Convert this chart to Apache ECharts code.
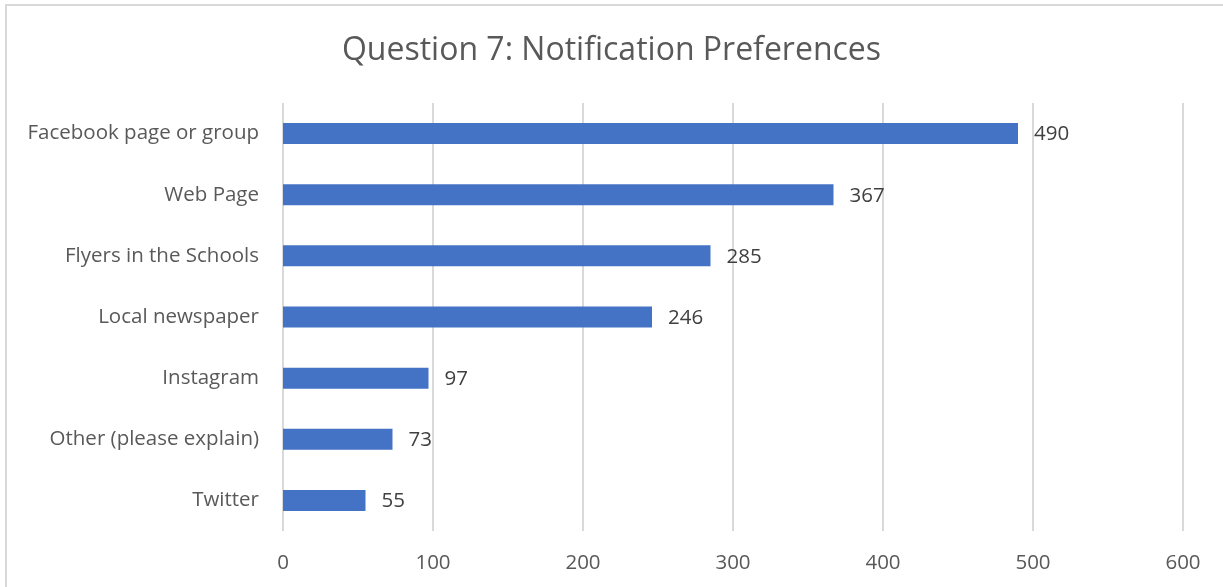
<!DOCTYPE html>
<html>
<head>
<meta charset="utf-8">
<script src="https://cdn.jsdelivr.net/npm/echarts@6/dist/echarts.min.js"></script>
<style>
  html, body { margin: 0; padding: 0; background: #fff; }
  #chart { width: 1223px; height: 587px; }
</style>
</head>
<body>
<div id="chart"></div>
<script>
const categories = ['Twitter', 'Other (please explain)', 'Instagram', 'Local newspaper', 'Flyers in the Schools', 'Web Page', 'Facebook page or group']
const counts = [55, 73, 97, 246, 285, 367, 490]
const xTicks = [0, 100, 200, 300, 400, 500, 600]

const font = '"Open Sans", "Noto Sans", sans-serif'
const grey = '#595959'

var chart = echarts.init(document.getElementById('chart'))
chart.setOption({
  animation: false,
  textStyle: { fontFamily: font },
  title: {
    text: 'Question 7: Notification Preferences',
    left: 'center',
    top: 30,
    textStyle: { fontFamily: font, fontSize: 32, fontWeight: 'normal', color: grey }
  },
  graphic: [
    {
      type: 'rect',
      shape: { x: 6, y: 5, width: 1240, height: 600 },
      style: { fill: 'none', stroke: '#d9d9d9', lineWidth: 2 },
      silent: true
    }
  ],
  grid: { left: 283, right: 40, top: 103, bottom: 56 },
  xAxis: {
    type: 'value',
    min: xTicks[0],
    max: xTicks[xTicks.length - 1],
    interval: 100,
    axisLine: { show: false },
    axisTick: { show: false },
    splitLine: { lineStyle: { color: '#d9d9d9', width: 2 } },
    axisLabel: { color: grey, fontSize: 20.5, fontFamily: font, margin: 22 }
  },
  yAxis: {
    type: 'category',
    data: categories,
    axisLine: { show: false },
    axisTick: { show: false },
    axisLabel: { color: grey, fontSize: 20.5, fontFamily: font, margin: 24 }
  },
  series: [
    {
      type: 'bar',
      data: counts,
      barWidth: 21,
      itemStyle: { color: '#4472c4' },
      label: {
        show: true,
        position: 'right',
        distance: 16,
        color: '#404040',
        fontSize: 20.5,
        fontFamily: font,
        offset: [0, 1]
      }
    }
  ]
})
</script>
</body>
</html>
